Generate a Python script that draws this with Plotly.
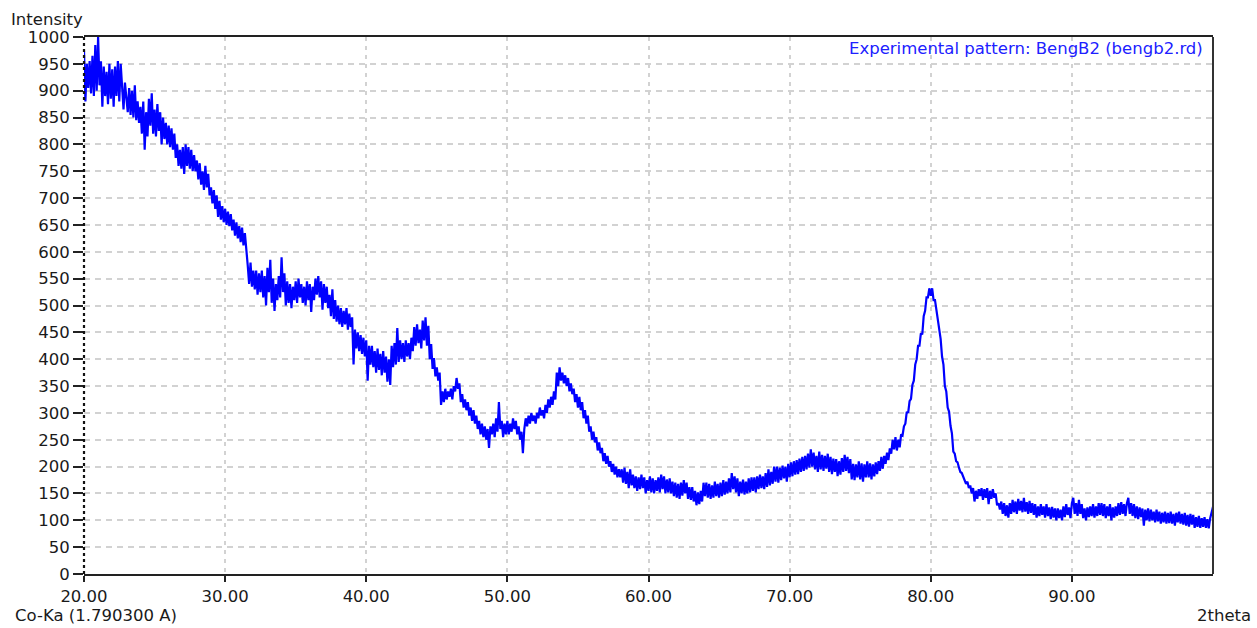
import plotly.graph_objects as go

# ---- data ----
two_theta_start = 20.0
two_theta_step = 0.1

intensity = [
    975, 880, 950, 905, 955, 895, 965, 890, 985, 900,   # 20
    1000, 910, 955, 870, 945, 890, 935, 875, 950, 885,  # 21
    940, 870, 945, 890, 955, 880, 950, 900, 865, 915,   # 22
    890, 860, 905, 855, 900, 850, 910, 845, 880, 840,   # 23
    870, 820, 880, 790, 860, 815, 885, 835, 895, 820,   # 24
    865, 815, 875, 825, 860, 800, 850, 810, 840, 800,   # 25
    835, 795, 830, 790, 820, 775, 800, 760, 790, 755,   # 26
    795, 745, 800, 760, 795, 755, 790, 750, 780, 750,   # 27
    770, 735, 765, 725, 750, 715, 760, 720, 745, 705,   # 28
    720, 690, 715, 680, 705, 665, 695, 660, 685, 655,   # 29
    680, 650, 675, 648, 670, 640, 660, 630, 655, 625,   # 30
    648, 618, 645, 612, 635, 610, 575, 540, 580, 535,   # 31
    565, 530, 565, 520, 560, 525, 565, 515, 555, 500,   # 32
    570, 525, 585, 505, 550, 490, 540, 510, 555, 515,   # 33
    590, 525, 560, 500, 545, 505, 540, 495, 535, 510,   # 34
    545, 505, 550, 515, 540, 505, 535, 500, 545, 510,   # 35
    540, 488, 535, 510, 550, 520, 555, 515, 545, 492,   # 36
    540, 505, 535, 495, 520, 480, 530, 475, 510, 470,   # 37
    500, 465, 495, 460, 490, 465, 495, 455, 485, 460,   # 38
    478, 390, 455, 420, 450, 415, 445, 410, 440, 405,   # 39
    435, 360, 425, 390, 425, 385, 415, 375, 420, 380,   # 40
    410, 370, 415, 375, 405, 358, 400, 352, 425, 385,   # 41
    430, 390, 458, 395, 435, 400, 430, 395, 435, 405,   # 42
    430, 400, 440, 415, 460, 425, 465, 430, 455, 420,   # 43
    472, 435, 478, 425, 462, 400, 428, 382, 402, 368,   # 44
    385, 360, 375, 315, 340, 320, 345, 325, 340, 330,   # 45
    345, 325, 350, 340, 365, 345, 355, 320, 335, 310,   # 46
    325, 305, 320, 295, 310, 285, 305, 280, 295, 270,   # 47
    285, 260, 280, 255, 275, 250, 270, 235, 275, 260,   # 48
    280, 255, 290, 265, 320, 270, 285, 255, 280, 260,   # 49
    285, 260, 280, 265, 290, 270, 285, 260, 275, 250,   # 50
    265, 225, 270, 290, 275, 295, 280, 300, 285, 295,   # 51
    280, 300, 290, 310, 295, 305, 290, 315, 300, 325,   # 52
    310, 330, 315, 340, 325, 375, 350, 385, 360, 375,   # 53
    355, 370, 350, 365, 340, 355, 335, 345, 320, 335,   # 54
    310, 330, 305, 320, 290, 305, 280, 295, 265, 275,   # 55
    250, 265, 245, 255, 230, 245, 225, 235, 210, 225,   # 56
    205, 220, 200, 210, 190, 205, 185, 200, 180, 195,   # 57
    180, 195, 170, 198, 168, 190, 160, 195, 165, 185,   # 58
    160, 182, 155, 180, 158, 185, 160, 180, 150, 175,   # 59
    155, 182, 152, 178, 150, 175, 155, 180, 152, 185,   # 60
    158, 182, 150, 176, 152, 178, 150, 172, 145, 170,   # 61
    142, 168, 140, 170, 146, 175, 150, 170, 140, 162,   # 62
    138, 162, 135, 155, 128, 152, 130, 155, 135, 170,   # 63
    145, 170, 142, 168, 140, 165, 142, 172, 145, 168,   # 64
    142, 170, 145, 175, 148, 172, 150, 178, 152, 188,   # 65
    158, 182, 152, 178, 145, 172, 150, 176, 148, 172,   # 66
    150, 178, 152, 180, 155, 180, 152, 182, 158, 185,   # 67
    160, 182, 158, 188, 162, 195, 165, 190, 168, 200,   # 68
    172, 200, 170, 198, 175, 202, 178, 200, 172, 205,   # 69
    180, 208, 182, 210, 185, 212, 186, 215, 190, 218,   # 70
    192, 220, 195, 224, 198, 232, 200, 226, 195, 220,   # 71
    190, 228, 195, 222, 192, 220, 196, 224, 190, 218,   # 72
    186, 215, 190, 214, 182, 210, 185, 216, 190, 222,   # 73
    192, 218, 188, 214, 176, 205, 175, 204, 180, 210,   # 74
    176, 206, 172, 204, 180, 210, 180, 206, 176, 204,   # 75
    182, 208, 186, 210, 192, 218, 196, 220, 205, 226,   # 76
    212, 234, 224, 250, 232, 255, 230, 250, 236, 260,   # 77
    258, 275, 280, 302, 300, 322, 326, 352, 360, 390,   # 78
    400, 425, 425, 448, 446, 480, 490, 515, 515, 532,   # 79
    518, 532, 510, 510, 490, 480, 450, 438, 405, 390,   # 80
    350, 340, 310, 302, 276, 262, 228, 224, 210, 208,   # 81
    198, 190, 188, 180, 175, 168, 172, 160, 165, 150,   # 82
    160, 135, 155, 140, 158, 145, 160, 138, 158, 142,   # 83
    160, 130, 155, 140, 158, 142, 150, 128, 132, 120,   # 84
    135, 112, 132, 108, 128, 105, 132, 112, 138, 115,   # 85
    135, 112, 140, 118, 136, 115, 142, 116, 134, 112,   # 86
    136, 114, 132, 110, 130, 105, 126, 108, 130, 110,   # 87
    126, 105, 130, 108, 124, 102, 125, 105, 122, 100,   # 88
    122, 104, 120, 100, 126, 106, 130, 110, 124, 104,   # 89
    132, 142, 112, 132, 108, 138, 112, 130, 104, 122,   # 90
    100, 124, 106, 126, 108, 130, 105, 126, 108, 132,   # 91
    110, 132, 108, 130, 104, 126, 108, 130, 100, 124,   # 92
    105, 126, 108, 132, 110, 134, 112, 130, 108, 132,   # 93
    142, 112, 132, 108, 130, 104, 126, 102, 124, 106,   # 94
    122, 90, 120, 100, 122, 98, 120, 100, 116, 96,      # 95
    120, 98, 116, 94, 114, 96, 116, 94, 114, 95,        # 96
    116, 94, 112, 90, 114, 96, 116, 94, 112, 92,        # 97
    114, 90, 110, 88, 112, 92, 110, 86, 106, 88,        # 98
    108, 86, 104, 88, 106, 86, 102, 85, 104, 115,       # 99
    125,                                                # 100
]

two_theta = [round(two_theta_start + i * two_theta_step, 2) for i in range(len(intensity))]

x_tick_values = [20, 30, 40, 50, 60, 70, 80, 90]
x_tick_labels = ["20.00", "30.00", "40.00", "50.00", "60.00", "70.00", "80.00", "90.00"]
y_tick_values = list(range(0, 1001, 50))

series_label = "Experimental pattern: BengB2 (bengb2.rd)"
y_title = "Intensity"
x_title = "2theta"
radiation_label = "Co-Ka (1.790300 A)"

FONT = "DejaVu Sans"
FS = 16.5
TXT = "#1a1a1a"

fig = go.Figure()
fig.add_trace(go.Scatter(
    x=two_theta, y=intensity, mode="lines",
    line=dict(color="#0000ff", width=2.2),
    showlegend=False, hoverinfo="x+y",
))

fig.update_layout(
    width=1257, height=628,
    margin=dict(l=84, r=44, t=37, b=54),
    paper_bgcolor="white", plot_bgcolor="white",
    font=dict(family=FONT, size=FS, color=TXT),
    xaxis=dict(
        range=[20, 100], tickmode="array", tickvals=x_tick_values, ticktext=x_tick_labels,
        ticks="outside", ticklen=6, tickwidth=1.5, tickcolor="#222",
        showline=True, linecolor="#222", linewidth=2, mirror=True,
        showgrid=True, gridcolor="#d2d2d2", griddash="4px,5px", gridwidth=1.5,
        zeroline=False, tickfont=dict(family=FONT, size=FS, color=TXT),
    ),
    yaxis=dict(
        range=[0, 1000], tickmode="array", tickvals=y_tick_values,
        ticks="outside", ticklen=10, tickwidth=1.5, tickcolor="#222",
        showline=False,
        showgrid=True, gridcolor="#d2d2d2", griddash="6px,5px", gridwidth=1.5,
        zeroline=False, tickfont=dict(family=FONT, size=FS, color=TXT),
    ),
    shapes=[
        dict(type="line", xref="paper", yref="paper", x0=0, x1=0, y0=0, y1=1,
             line=dict(color="#111", width=2.2, dash="dot")),
        dict(type="line", xref="paper", yref="paper", x0=1, x1=1, y0=0, y1=1,
             line=dict(color="#333", width=2)),
    ],
    annotations=[
        dict(text=y_title, xref="paper", yref="paper", x=-0.0664, y=1.0335,
             xanchor="left", yanchor="middle", showarrow=False,
             font=dict(family=FONT, size=FS, color=TXT)),
        dict(text=radiation_label, xref="paper", yref="paper", x=-0.0629, y=-0.0782,
             xanchor="left", yanchor="middle", showarrow=False,
             font=dict(family=FONT, size=FS, color=TXT)),
        dict(text=x_title, xref="paper", yref="paper", x=1.0354, y=-0.0782,
             xanchor="right", yanchor="middle", showarrow=False,
             font=dict(family=FONT, size=FS, color=TXT)),
        dict(text=series_label, xref="paper", yref="paper", x=0.9929, y=0.9795,
             xanchor="right", yanchor="middle", showarrow=False,
             font=dict(family=FONT, size=FS, color="#2020ff")),
    ],
)

fig.write_html("out.html")
